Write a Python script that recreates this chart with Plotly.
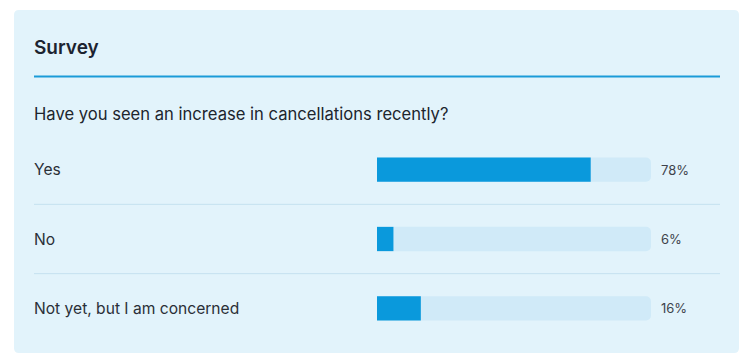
import plotly.graph_objects as go

W, H = 752, 362
OFF = 8  # page body margin
FW, FH = W - OFF, H - OFF

title_text = "Survey"
question_text = "Have you seen an increase in cancellations recently?"
answers = ["Yes", "No", "Not yet, but I am concerned"]
percents = [78, 6, 16]
track_max = [100, 100, 100]

FONT = "Inter"
TEXT_DARK = "#1c2330"
PANEL_BG = "#e2f3fb"
TRACK = "#d0eaf8"
FILL = "#0a99dc"
ACCENT = "#1a9bd8"
SEP = "#c4e1ef"


def px(x):
    return (x - OFF) / FW


def py(y):
    return 1 - (y - OFF) / FH


fig = go.Figure()

fig.add_trace(go.Bar(
    y=answers, x=track_max, orientation="h",
    marker=dict(color=TRACK, cornerradius=5, line=dict(width=0)),
    width=0.35, hoverinfo="skip", showlegend=False,
))
fig.add_trace(go.Bar(
    y=answers, x=percents, orientation="h",
    marker=dict(color=FILL, cornerradius=5, line=dict(width=0)),
    width=0.35, showlegend=False,
    hovertemplate="%{y}: %{x}%<extra></extra>",
))

# panel with rounded corners
x0, x1, y0, y1, r = 14, 739, 10, 353, 5
path = (
    f"M {px(x0 + r)} {py(y0)} L {px(x1 - r)} {py(y0)} "
    f"Q {px(x1)} {py(y0)} {px(x1)} {py(y0 + r)} "
    f"L {px(x1)} {py(y1 - r)} Q {px(x1)} {py(y1)} {px(x1 - r)} {py(y1)} "
    f"L {px(x0 + r)} {py(y1)} Q {px(x0)} {py(y1)} {px(x0)} {py(y1 - r)} "
    f"L {px(x0)} {py(y0 + r)} Q {px(x0)} {py(y0)} {px(x0 + r)} {py(y0)} Z"
)
shapes = [
    dict(type="path", path=path, xref="paper", yref="paper",
         fillcolor=PANEL_BG, line=dict(width=0), layer="below"),
    dict(type="line", xref="paper", yref="paper",
         x0=px(34), x1=px(720), y0=py(76.5), y1=py(76.5),
         line=dict(color=ACCENT, width=2)),
]
for i in range(len(answers) - 1):
    shapes.append(dict(type="line", xref="paper", yref="y",
                       x0=px(34), x1=px(720), y0=i + 0.5, y1=i + 0.5,
                       line=dict(color=SEP, width=1), layer="below"))

annotations = [
    dict(text=title_text, xref="paper", yref="paper", x=px(32), y=py(47),
         xanchor="left", yanchor="middle", showarrow=False,
         font=dict(family=FONT, size=19, color=TEXT_DARK, weight=600)),
    dict(text=question_text, xref="paper", yref="paper", x=px(32), y=py(114),
         xanchor="left", yanchor="middle", showarrow=False,
         font=dict(family=FONT, size=16.6, color="#20252d")),
]
for a, p in zip(answers, percents):
    annotations.append(dict(text=a, xref="paper", yref="y", x=px(32), y=a,
                            xanchor="left", yanchor="middle", showarrow=False,
                            font=dict(family=FONT, size=15.6, color="#2a2f37")))
    annotations.append(dict(text=f"{p}%", xref="paper", yref="y", x=px(659), y=a,
                            xanchor="left", yanchor="middle", showarrow=False,
                            font=dict(family=FONT, size=13, color="#3e434b")))

fig.update_layout(
    width=FW, height=FH,
    margin=dict(l=0, r=0, t=0, b=0),
    paper_bgcolor="white", plot_bgcolor="rgba(0,0,0,0)",
    barmode="overlay",
    xaxis=dict(domain=[px(377), px(651)], range=[0, 100], visible=False, fixedrange=True),
    yaxis=dict(domain=[py(343), py(135)], categoryorder="array", categoryarray=answers,
               autorange="reversed", visible=False, fixedrange=True),
    shapes=shapes, annotations=annotations,
    font=dict(family=FONT),
)

fig.write_html("out.html", config={"displayModeBar": False})
